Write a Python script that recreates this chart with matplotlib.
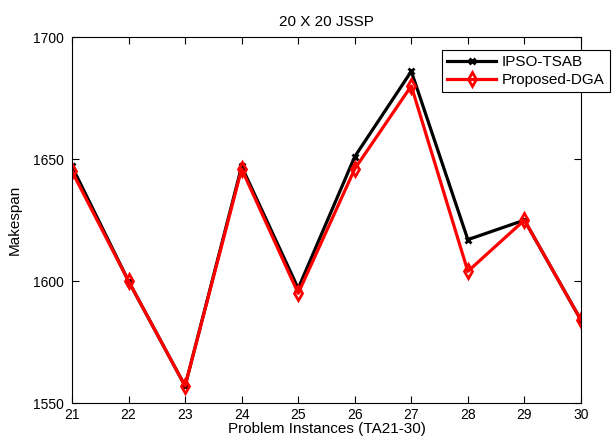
import numpy as np
import matplotlib
matplotlib.use("Agg")
import matplotlib.pyplot as plt

plt.rcParams['font.family'] = ['Liberation Sans', 'DejaVu Sans']

instances = [21, 22, 23, 24, 25, 26, 27, 28, 29, 30]
ipso_tsab = [1647, 1600, 1557, 1647, 1597, 1651, 1686, 1617, 1625, 1584]
proposed_dga = [1645, 1600, 1557, 1646, 1595, 1646, 1680, 1604, 1625, 1584]

fig = plt.figure(figsize=(6.12, 4.42), dpi=100)
# axes box: x 72..581 px, y 37..403 px
ax = fig.add_axes([0.1176, 0.088, 0.8317, 0.828])

ax.plot(instances, ipso_tsab, color='black', linewidth=2.3, marker='x',
        markersize=5, markeredgewidth=2, label='IPSO-TSAB')
ax.plot(instances, proposed_dga, color='red', linewidth=2.3, marker='d',
        markersize=7, markerfacecolor='none', markeredgewidth=2, label='Proposed-DGA')

ax.set_xlim(21, 30)
ax.set_ylim(1550, 1700)
ax.set_xticks(instances)
ax.set_yticks([1550, 1600, 1650, 1700])
ax.tick_params(direction='in', top=True, right=True, labelsize=10, length=5)
ax.tick_params(axis='y', pad=6)
ax.set_title('20 X 20 JSSP', fontsize=11, pad=8)
ax.set_xlabel('Problem Instances (TA21-30)', fontsize=11, labelpad=0)
ax.set_ylabel('Makespan', fontsize=11, labelpad=8)

leg = ax.legend(loc='upper right', bbox_to_anchor=(0.997, 0.887),
                bbox_transform=fig.transFigure, fancybox=False, framealpha=1,
                edgecolor='black', fontsize=11, borderaxespad=0,
                handlelength=3.2, handletextpad=0.4, borderpad=0.35,
                labelspacing=0.25)
leg.get_frame().set_linewidth(0.8)

fig.savefig('out.png', dpi=100)
